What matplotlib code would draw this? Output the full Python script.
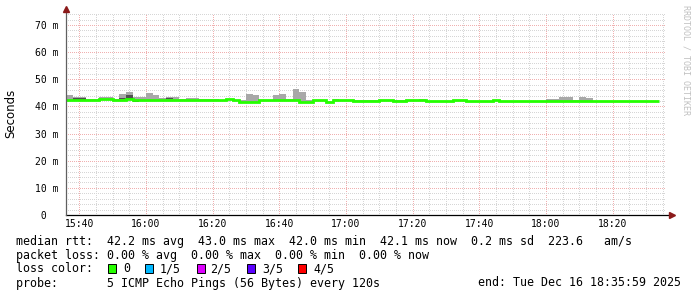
import numpy as np
import matplotlib
matplotlib.use("Agg")
import matplotlib.pyplot as plt
from matplotlib.patches import Rectangle

# ---------------- data ----------------
step_minutes = 2            # 120 s probe step
start_label = "15:36"
x_tick_labels = ["15:40", "16:00", "16:20", "16:40", "17:00", "17:20", "17:40", "18:00", "18:20"]
x_tick_minutes = [4, 24, 44, 64, 84, 104, 124, 144, 164]
y_ticks = [0, 10, 20, 30, 40, 50, 60, 70]
y_tick_labels = [" 0", "10 m", "20 m", "30 m", "40 m", "50 m", "60 m", "70 m"]

median_ms = ([42.3] * 5 + [42.7] * 2 + [42.4] * 2 + [42.6, 42.2] + [42.4] * 3 + [42.2] * 3
             + [42.4] * 2 + [42.3] * 4 + [42.2, 42.7, 42.2] + [41.8] * 3 + [42.2] * 6
             + [41.8] * 2 + [42.2] * 2 + [41.8] + [42.2] * 3 + [41.9] * 4 + [42.2] * 2
             + [41.9] * 2 + [42.2] * 3 + [41.9] * 4 + [42.2] * 2 + [41.9] * 4 + [42.2]
             + [41.9] * 23 + [42.0])

smoke_max_ms = ([44.3, 43.5, 43.5, 42.9, 42.9, 43.5, 43.5, 42.9, 44.6, 45.4,
                 43.5, 43.5, 44.9, 44.3, 43.0, 43.5, 43.5, 42.8, 43.2, 43.2,
                 42.8, 42.7, 42.6, 42.5, 42.7, 42.4, 42.4, 44.6, 44.3, 42.5,
                 42.5, 44.3, 44.6, 42.9, 46.5, 45.4, 42.2, 42.2, 42.2, 41.8,
                 42.9] + [42.2] * 12 + [42.8] + [42.0] * 18
                + [42.7, 42.7, 43.4, 43.4, 42.4, 43.4, 43.1] + [42.0] * 10)

nan = np.nan
dark_lo_ms = [nan, 42.5, 42.5, nan, nan, nan, nan, nan, 42.7, 42.9, 41.8, nan, nan, nan, nan, 42.6] + [nan] * 73
dark_hi_ms = [nan, 43.0, 43.0, nan, nan, nan, nan, nan, 43.2, 44.2, 42.4, nan, nan, nan, nan, 43.0] + [nan] * 73

loss_labels = ["0", "1/5", "2/5", "3/5", "4/5"]
loss_colors = ["#26ff00", "#00b8ff", "#dd00ff", "#5a00ff", "#ff0000"]

legend_rtt = "median rtt:  42.2 ms avg  43.0 ms max  42.0 ms min  42.1 ms now  0.2 ms sd  223.6   am/s"
legend_loss = "packet loss: 0.00 % avg  0.00 % max  0.00 % min  0.00 % now"
legend_probe = "probe:       5 ICMP Echo Pings (56 Bytes) every 120s"
legend_end = "end: Tue Dec 16 18:35:59 2025"

# ---------------- figure ----------------
W, H = 697, 297
fig = plt.figure(figsize=(W / 100, H / 100), dpi=100)
fig.patch.set_facecolor("white")

y_top_px = 12.5
ax = fig.add_axes([66 / W, (H - 215) / H, 600 / W, (215 - y_top_px) / H])
ax.set_xlim(0, 180)
ax.set_ylim(0, 74.6)
ax.set_facecolor("white")

mono = "DejaVu Sans Mono"
green = "#26ff00"
median = np.array(median_ms)
smax = np.array(smoke_max_ms)
n = len(median)
edges = np.arange(n + 1) * step_minutes

# grid
maj_col = "#f0b0b0"
min_col = "#d6d6d6"
ax.set_xticks(x_tick_minutes)
ax.set_xticklabels(x_tick_labels, fontfamily=mono, fontsize=7)
ax.set_xticks([m for m in range(4, 180, 5) if m not in x_tick_minutes], minor=True)
ax.set_yticks(y_ticks)
ax.set_yticklabels(y_tick_labels, fontfamily=mono, fontsize=7)
ax.set_yticks([v for v in np.arange(0, 75, 2) if v not in y_ticks], minor=True)
ax.grid(which="minor", color=min_col, linestyle=(0, (1, 1.6)), linewidth=0.72, antialiased=False)
ax.grid(which="major", color=maj_col, linestyle=(0, (1, 1.6)), linewidth=0.72, antialiased=False)
ax.set_axisbelow(True)
ax.tick_params(which="both", length=0)
ax.tick_params(axis="x", pad=3)
ax.tick_params(axis="y", pad=22.3)
for t in ax.get_yticklabels():
    t.set_horizontalalignment("left")

# smoke
ax.bar(edges[:-1], np.clip(smax - median, 0, None), bottom=median, width=step_minutes,
       align="edge", color="#a8a8a8", linewidth=0, zorder=2)
dlo = np.array(dark_lo_ms)
dhi = np.array(dark_hi_ms)
ok = ~np.isnan(dlo)
ax.bar(edges[:-1][ok], (dhi - dlo)[ok], bottom=dlo[ok], width=step_minutes,
       align="edge", color="#505050", linewidth=0, zorder=3)
# median
ax.stairs(median, edges, baseline=None, color=green, linewidth=2.0, zorder=4)

# axes lines & arrows
for s in ["top", "right", "left", "bottom"]:
    ax.spines[s].set_visible(False)
ax.plot([0, 1.01], [0, 0], transform=ax.transAxes, color="black", lw=0.9, clip_on=False, zorder=5)
ax.plot([0, 0], [0, 1.015], transform=ax.transAxes, color="#606060", lw=0.9, clip_on=False, zorder=5)
ax.plot([1.01], [0], transform=ax.transAxes, marker=">", color="#8b1a1a", markersize=4, clip_on=False, zorder=6)
ax.plot([0], [1.015], transform=ax.transAxes, marker="^", color="#8b1a1a", markersize=4, clip_on=False, zorder=6)

# labels
fig.text(11 / W, 1 - 113 / H, "Seconds", rotation=90, ha="center", va="center",
         fontsize=8.5, fontfamily="DejaVu Sans", color="black")
fig.text(686 / W, 1 - 5 / H, "RRDTOOL / TOBI OETIKER", rotation=270, ha="center", va="top",
         fontsize=6, fontfamily=mono, color="#c0c0c0")

fs = 8.4
fig.text(16 / W, 1 - 241 / H, legend_rtt, ha="left", va="center", fontsize=fs, fontfamily=mono)
fig.text(16 / W, 1 - 255 / H, legend_loss, ha="left", va="center", fontsize=fs, fontfamily=mono)
fig.text(16 / W, 1 - 269 / H, "loss color:", ha="left", va="center", fontsize=fs, fontfamily=mono)
box_x = [108, 145, 197, 247, 298]
lab_x = [123, 160, 210, 262, 313]
for bx, lx, lab, col in zip(box_x, lab_x, loss_labels, loss_colors):
    fig.patches.append(Rectangle((bx / W, 1 - 273 / H), 8 / W, 9 / H, transform=fig.transFigure,
                                 facecolor=col, edgecolor="black", linewidth=0.7))
    fig.text(lx / W, 1 - 269 / H, lab, ha="left", va="center", fontsize=fs, fontfamily=mono)
fig.text(16 / W, 1 - 283 / H, legend_probe, ha="left", va="center", fontsize=fs, fontfamily=mono)
fig.text(681 / W, 1 - 283 / H, legend_end, ha="right", va="center", fontsize=fs, fontfamily=mono)

fig.savefig("out.png", dpi=100)
